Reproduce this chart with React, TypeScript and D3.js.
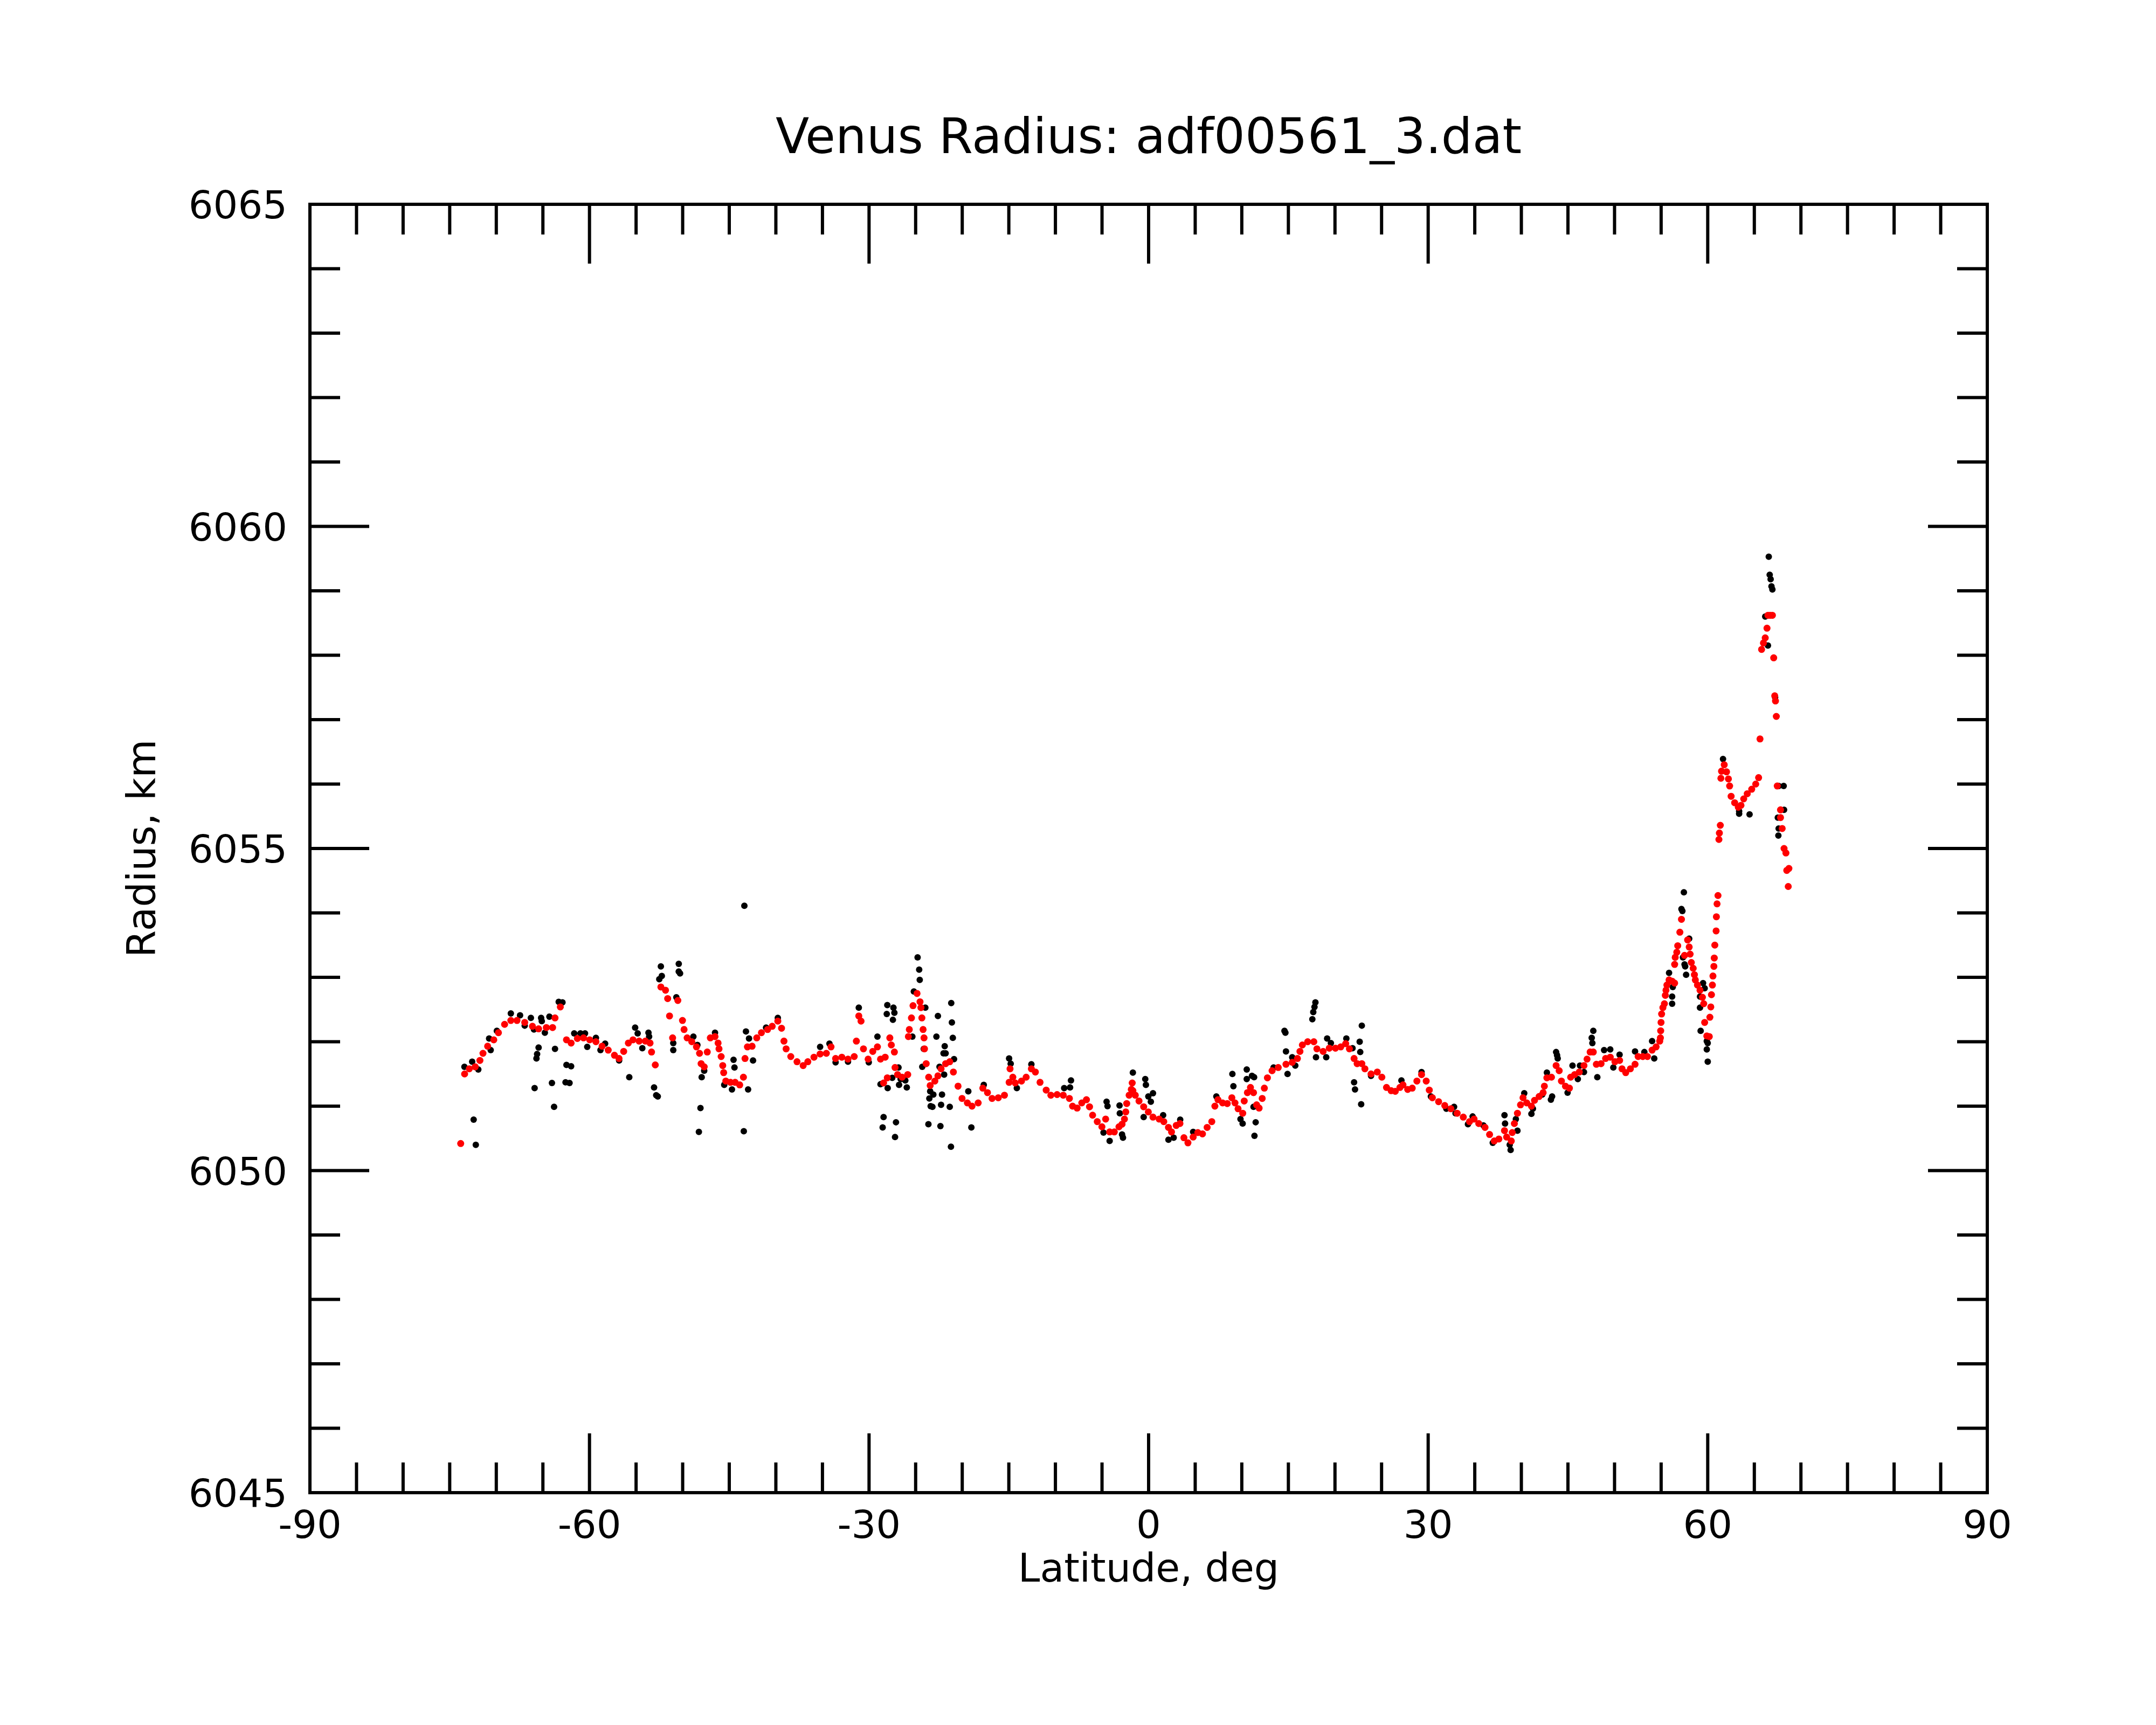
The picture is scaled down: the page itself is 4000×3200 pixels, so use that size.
import React from "react";
import * as d3 from "d3";

const W = 4000;
const H = 3200;

const chartTitle = "Venus Radius: adf00561_3.dat";
const xLabel = "Latitude, deg";
const yLabel = "Radius, km";

const xMajorTicks = [-90, -60, -30, 0, 30, 60, 90];
const xMinorTicks = d3.range(-90, 91, 5);
const yMajorTicks = [6045, 6050, 6055, 6060, 6065];
const yMinorTicks = d3.range(6045, 6066, 1);

// Smoothed radius (red), [latitude, radius km]
const smoothedPoints: [number, number][] = [
  [-73.82, 6050.42], [-73.4, 6051.5], [-72.9, 6051.58], [-72.26, 6051.61], [-71.76, 6051.71],
  [-71.43, 6051.82], [-70.93, 6051.93], [-70.27, 6052.03], [-69.77, 6052.14], [-69.11, 6052.27],
  [-68.44, 6052.33], [-67.78, 6052.33], [-66.95, 6052.3], [-66.12, 6052.24], [-65.46, 6052.2],
  [-64.63, 6052.22], [-63.96, 6052.22], [-63.7, 6052.37], [-63.13, 6052.54], [-62.47, 6052.03],
  [-61.97, 6051.98], [-61.3, 6052.05], [-60.64, 6052.06], [-59.98, 6052.03], [-59.31, 6052.0],
  [-58.65, 6051.93], [-57.99, 6051.87], [-57.32, 6051.79], [-56.83, 6051.74], [-56.33, 6051.85],
  [-55.83, 6051.98], [-55.33, 6052.03], [-54.67, 6052.01], [-54.0, 6052.01], [-53.5, 6051.98],
  [-53.34, 6051.84], [-52.94, 6051.64], [-52.34, 6052.85], [-51.84, 6052.8], [-51.61, 6052.67],
  [-51.41, 6052.4], [-51.08, 6052.06], [-50.52, 6052.64], [-50.02, 6052.33], [-49.85, 6052.19],
  [-49.52, 6052.06], [-49.02, 6052.0], [-48.52, 6051.92], [-48.19, 6051.82], [-48.02, 6051.66],
  [-47.69, 6051.61], [-47.36, 6051.84], [-47.03, 6052.06], [-46.53, 6052.08], [-46.2, 6051.98],
  [-46.1, 6051.89], [-45.87, 6051.77], [-45.7, 6051.63], [-45.6, 6051.52], [-45.37, 6051.39],
  [-44.87, 6051.37], [-44.37, 6051.37], [-43.88, 6051.33], [-43.48, 6051.45], [-43.31, 6051.74],
  [-43.05, 6051.92], [-42.55, 6051.93], [-42.05, 6052.06], [-41.55, 6052.14], [-40.89, 6052.19],
  [-40.39, 6052.24], [-39.79, 6052.32], [-39.39, 6052.21], [-39.13, 6052.01], [-38.9, 6051.89],
  [-38.4, 6051.77], [-37.73, 6051.69], [-37.07, 6051.63], [-36.57, 6051.69], [-35.91, 6051.76],
  [-35.25, 6051.81], [-34.58, 6051.82], [-34.08, 6051.92], [-33.59, 6051.74], [-32.92, 6051.76],
  [-32.26, 6051.73], [-31.59, 6051.77], [-31.36, 6052.01], [-31.1, 6052.4], [-30.86, 6052.32],
  [-30.6, 6051.89], [-30.1, 6051.73], [-29.6, 6051.85], [-29.1, 6051.92], [-28.77, 6051.73],
  [-28.44, 6051.36], [-28.27, 6051.76], [-28.04, 6051.44], [-27.77, 6052.06], [-27.61, 6051.95],
  [-27.28, 6051.84], [-27.21, 6051.6], [-26.94, 6051.49], [-26.45, 6051.45], [-25.85, 6051.49],
  [-25.78, 6052.08], [-25.68, 6052.19], [-25.45, 6052.37], [-25.28, 6052.56], [-24.85, 6052.75],
  [-24.53, 6052.62], [-24.43, 6052.53], [-24.33, 6052.37], [-24.2, 6052.19], [-24.1, 6052.06],
  [-24.05, 6051.89], [-23.87, 6051.66], [-23.6, 6051.45], [-23.44, 6051.32], [-22.94, 6051.39],
  [-22.61, 6051.47], [-22.27, 6051.58], [-21.78, 6051.66], [-21.34, 6051.69], [-20.95, 6051.53],
  [-20.45, 6051.31], [-20.02, 6051.12], [-19.45, 6051.05], [-18.95, 6051.0], [-18.29, 6051.05],
  [-17.79, 6051.28], [-17.29, 6051.21], [-16.8, 6051.12], [-16.13, 6051.13], [-15.47, 6051.17],
  [-14.97, 6051.37], [-14.87, 6051.58], [-14.57, 6051.45], [-14.31, 6051.36], [-13.64, 6051.39],
  [-13.14, 6051.45], [-12.58, 6051.58], [-12.15, 6051.53], [-11.65, 6051.37], [-10.99, 6051.25],
  [-10.49, 6051.17], [-9.82, 6051.18], [-9.16, 6051.17], [-8.5, 6051.12], [-8.16, 6051.0],
  [-7.67, 6050.97], [-7.17, 6051.05], [-6.67, 6051.1], [-6.34, 6050.99], [-6.01, 6050.86],
  [-5.51, 6050.76], [-5.01, 6050.68], [-4.61, 6050.8], [-4.18, 6050.6], [-3.68, 6050.6],
  [-3.18, 6050.68], [-2.85, 6050.72], [-2.59, 6050.8], [-2.45, 6050.91], [-2.35, 6051.04],
  [-2.09, 6051.17], [-1.86, 6051.26], [-1.76, 6051.36], [-1.69, 6051.24], [-1.43, 6051.17],
  [-1.03, 6051.08], [-0.53, 6050.99], [-0.03, 6050.91], [0.47, 6050.83], [1.13, 6050.8],
  [1.63, 6050.76], [2.13, 6050.67], [2.46, 6050.6], [2.96, 6050.7], [3.36, 6050.73],
  [3.79, 6050.51], [4.22, 6050.43], [4.78, 6050.52], [5.28, 6050.59], [5.78, 6050.57],
  [6.28, 6050.67], [6.78, 6050.76], [7.11, 6051.0], [7.44, 6051.1], [7.94, 6051.05],
  [8.44, 6051.04], [8.93, 6051.13], [9.27, 6051.05], [9.6, 6050.96], [10.1, 6050.89],
  [10.26, 6051.08], [10.6, 6051.21], [10.93, 6051.29], [11.26, 6051.21], [11.59, 6051.02],
  [11.86, 6050.97], [12.19, 6051.12], [12.42, 6051.28], [12.75, 6051.44], [13.25, 6051.55],
  [13.91, 6051.6], [14.74, 6051.65], [15.41, 6051.68], [15.97, 6051.74], [16.24, 6051.85],
  [16.5, 6051.95], [17.07, 6052.0], [17.73, 6052.0], [18.06, 6051.89], [18.73, 6051.85],
  [19.39, 6051.9], [20.05, 6051.9], [20.62, 6051.92], [21.15, 6051.97], [21.55, 6051.89],
  [22.05, 6051.74], [22.38, 6051.66], [22.88, 6051.66], [23.21, 6051.58], [23.87, 6051.5],
  [24.54, 6051.53], [25.03, 6051.45], [25.53, 6051.29], [26.03, 6051.24], [26.47, 6051.23],
  [26.97, 6051.29], [27.3, 6051.33], [27.8, 6051.26], [28.29, 6051.28], [28.79, 6051.39],
  [29.29, 6051.49], [29.79, 6051.39], [30.12, 6051.25], [30.45, 6051.13], [31.12, 6051.07],
  [31.78, 6051.01], [32.44, 6050.96], [33.11, 6050.89], [33.77, 6050.83], [34.44, 6050.76],
  [34.93, 6050.8], [35.43, 6050.73], [36.1, 6050.67], [36.59, 6050.56], [37.09, 6050.46],
  [37.59, 6050.49], [38.19, 6050.62], [38.42, 6050.52], [38.92, 6050.46], [39.02, 6050.59],
  [39.25, 6050.73], [39.58, 6050.89], [39.91, 6051.02], [40.18, 6051.13], [40.58, 6051.05],
  [41.08, 6051.0], [41.41, 6051.09], [41.91, 6051.15], [42.34, 6051.21], [42.47, 6051.31],
  [42.74, 6051.44], [43.23, 6051.45], [43.73, 6051.63], [44.06, 6051.55], [44.3, 6051.39],
  [44.73, 6051.31], [45.16, 6051.28], [45.29, 6051.45], [45.72, 6051.49], [46.22, 6051.53],
  [46.72, 6051.63], [47.05, 6051.73], [47.38, 6051.84], [47.72, 6051.84], [48.05, 6051.65],
  [48.55, 6051.66], [49.04, 6051.74], [49.54, 6051.76], [50.04, 6051.69], [50.54, 6051.71],
  [50.8, 6051.58], [51.2, 6051.52], [51.7, 6051.58], [52.2, 6051.65], [52.53, 6051.77],
  [53.03, 6051.77], [53.53, 6051.77], [54.03, 6051.87], [54.46, 6051.92], [54.85, 6052.01],
  [54.92, 6052.06], [54.95, 6052.17], [54.99, 6052.3], [55.05, 6052.43], [55.19, 6052.53],
  [55.35, 6052.59], [55.45, 6052.72], [55.52, 6052.8], [55.62, 6052.88], [55.85, 6052.96],
  [56.18, 6052.94], [56.45, 6052.91], [56.45, 6053.2], [56.51, 6053.31], [56.68, 6053.39],
  [56.78, 6053.49], [57.01, 6053.7], [57.18, 6053.9], [57.51, 6053.34], [57.84, 6053.58],
  [58.01, 6053.47], [58.11, 6053.36], [58.24, 6053.23], [58.44, 6053.14], [58.57, 6053.04],
  [58.67, 6052.96], [58.9, 6052.88], [59.17, 6052.8], [59.43, 6052.69], [59.57, 6052.59],
  [59.67, 6052.3], [59.9, 6052.09], [60.17, 6052.08], [60.23, 6052.38], [60.33, 6052.54],
  [60.4, 6052.73], [60.5, 6052.88], [60.56, 6053.02], [60.66, 6053.17], [60.7, 6053.3],
  [60.76, 6053.5], [60.9, 6053.72], [60.93, 6053.94], [61.0, 6054.14], [61.1, 6054.27],
  [61.2, 6055.14], [61.25, 6055.24], [61.35, 6055.36], [61.41, 6056.09], [61.48, 6056.2],
  [61.77, 6056.3], [62.02, 6056.19], [62.22, 6056.08], [62.35, 6055.97], [62.51, 6055.81],
  [62.89, 6055.71], [63.28, 6055.64], [63.57, 6055.67], [63.86, 6055.77], [64.24, 6055.85],
  [64.72, 6055.92], [65.15, 6056.0], [65.46, 6056.1], [65.61, 6056.7], [65.78, 6058.09],
  [65.98, 6058.19], [66.17, 6058.27], [66.36, 6058.42], [66.46, 6058.62], [66.7, 6058.62],
  [66.94, 6058.62], [67.08, 6057.96], [67.19, 6057.37], [67.27, 6057.29], [67.36, 6057.05],
  [67.46, 6055.97], [67.81, 6055.6], [67.81, 6055.48], [67.99, 6055.31], [68.19, 6055.0],
  [68.39, 6054.93], [68.48, 6054.66], [68.71, 6054.69], [68.64, 6054.41],
];

// Raw radius samples (black), [latitude, radius km]
const rawPoints: [number, number][] = [
  [-73.42, 6051.61], [-72.59, 6051.69], [-72.43, 6050.79], [-72.2, 6050.4], [-71.93, 6051.57],
  [-70.77, 6052.05], [-70.6, 6051.87], [-69.94, 6052.17], [-68.44, 6052.44], [-67.45, 6052.41],
  [-66.95, 6052.25], [-66.29, 6052.37], [-65.96, 6052.19], [-65.89, 6051.28], [-65.69, 6051.74],
  [-65.62, 6051.81], [-65.46, 6051.91], [-65.19, 6052.37], [-65.12, 6052.32], [-64.79, 6052.14],
  [-64.3, 6052.39], [-64.03, 6051.36], [-63.8, 6050.99], [-63.7, 6051.89], [-63.3, 6052.62],
  [-62.9, 6052.61], [-62.47, 6051.64], [-62.57, 6051.37], [-62.14, 6051.36], [-61.97, 6051.62],
  [-61.64, 6052.13], [-60.97, 6052.13], [-60.48, 6052.13], [-60.24, 6051.92], [-59.31, 6052.06],
  [-58.82, 6051.87], [-58.32, 6051.97], [-56.82, 6051.71], [-55.73, 6051.45], [-55.1, 6052.22],
  [-54.83, 6052.13], [-54.33, 6051.9], [-53.67, 6052.14], [-53.6, 6052.08], [-53.07, 6051.29],
  [-52.84, 6051.17], [-52.67, 6051.15], [-52.51, 6052.97], [-52.34, 6053.17], [-52.24, 6053.02],
  [-50.42, 6053.21], [-50.42, 6053.09], [-50.28, 6053.06], [-50.68, 6052.69], [-51.01, 6051.98],
  [-51.01, 6051.87], [-48.85, 6052.08], [-48.42, 6051.95], [-48.26, 6050.6], [-48.09, 6050.97],
  [-47.96, 6051.45], [-47.69, 6051.55], [-46.53, 6052.14], [-45.54, 6051.33], [-44.71, 6051.26],
  [-44.54, 6051.72], [-44.44, 6051.6], [-43.44, 6050.61], [-43.38, 6054.11], [-43.21, 6052.16],
  [-42.98, 6051.26], [-42.88, 6052.05], [-42.45, 6051.71], [-41.05, 6052.22], [-39.79, 6052.37],
  [-35.25, 6051.92], [-34.25, 6051.97], [-33.59, 6051.68], [-32.26, 6051.69], [-31.1, 6052.53],
  [-30.03, 6051.68], [-29.1, 6052.08], [-28.77, 6051.34], [-28.54, 6050.67], [-28.44, 6050.83],
  [-28.1, 6052.43], [-28.04, 6052.57], [-28.0, 6051.28], [-27.51, 6051.44], [-27.44, 6052.34],
  [-27.28, 6052.45], [-27.38, 6052.53], [-27.21, 6050.52], [-27.11, 6050.75], [-26.84, 6051.6],
  [-26.78, 6051.33], [-26.61, 6051.42], [-25.95, 6051.29], [-26.11, 6051.4], [-25.35, 6052.08],
  [-25.19, 6052.78], [-24.79, 6053.31], [-24.62, 6053.12], [-24.56, 6052.96], [-23.96, 6052.53],
  [-24.29, 6051.61], [-24.13, 6051.89], [-23.63, 6050.72], [-23.53, 6051.12], [-23.39, 6051.0],
  [-23.44, 6051.23], [-23.2, 6050.99], [-23.1, 6051.18], [-22.77, 6052.08], [-22.61, 6052.4],
  [-22.44, 6051.61], [-22.34, 6050.69], [-22.27, 6051.02], [-22.17, 6051.18], [-22.01, 6051.82],
  [-21.88, 6051.93], [-21.78, 6051.82], [-21.94, 6051.49], [-21.34, 6050.99], [-21.21, 6050.37],
  [-21.18, 6052.6], [-21.11, 6052.3], [-21.01, 6052.06], [-20.88, 6051.73], [-19.35, 6051.23],
  [-19.02, 6050.67], [-17.69, 6051.33], [-14.97, 6051.74], [-14.8, 6051.66], [-14.14, 6051.28],
  [-12.58, 6051.65], [-9.06, 6051.28], [-8.33, 6051.4], [-8.43, 6051.29], [-4.51, 6051.07],
  [-4.41, 6051.0], [-4.18, 6050.46], [-4.84, 6050.59], [-3.12, 6051.01], [-3.09, 6050.89],
  [-2.85, 6050.56], [-2.75, 6050.51], [-1.69, 6051.52], [-0.36, 6051.42], [-0.29, 6051.33],
  [-0.03, 6051.15], [0.47, 6051.2], [0.24, 6051.07], [-0.53, 6050.83], [1.56, 6050.86],
  [2.13, 6050.48], [2.69, 6050.51], [3.39, 6050.79], [4.78, 6050.6], [7.27, 6051.15],
  [8.99, 6051.5], [9.1, 6051.31], [9.86, 6050.8], [10.09, 6050.73], [10.53, 6051.57],
  [10.53, 6051.42], [11.09, 6051.47], [11.32, 6051.45], [11.49, 6050.75], [11.36, 6050.54],
  [11.26, 6050.99], [13.41, 6051.6], [14.58, 6052.17], [14.68, 6052.14], [14.74, 6051.85],
  [14.91, 6051.5], [15.41, 6051.76], [15.74, 6051.63], [17.57, 6052.35], [17.67, 6052.46],
  [17.8, 6052.54], [17.9, 6052.61], [17.96, 6051.76], [19.06, 6051.76], [19.16, 6052.05],
  [19.56, 6051.98], [21.22, 6052.05], [21.88, 6051.9], [22.05, 6051.37], [22.15, 6051.26],
  [22.65, 6052.0], [22.71, 6051.84], [22.81, 6051.03], [22.88, 6052.25], [23.87, 6051.47],
  [27.13, 6051.4], [29.29, 6051.53], [30.29, 6051.15], [31.95, 6050.96], [32.78, 6050.99],
  [32.94, 6050.89], [34.27, 6050.72], [34.77, 6050.84], [35.93, 6050.7], [36.93, 6050.43],
  [38.19, 6050.86], [38.25, 6050.73], [38.75, 6050.4], [38.85, 6050.32], [39.58, 6050.62],
  [39.41, 6050.8], [40.31, 6051.2], [41.08, 6050.88], [41.24, 6050.96], [42.24, 6051.18],
  [42.74, 6051.52], [43.17, 6051.1], [43.3, 6051.15], [43.73, 6051.84], [43.83, 6051.79],
  [43.9, 6051.74], [44.96, 6051.21], [45.49, 6051.63], [46.06, 6051.42], [46.29, 6051.63],
  [46.72, 6051.53], [47.55, 6052.06], [47.72, 6052.17], [47.62, 6051.98], [48.15, 6051.45],
  [48.88, 6051.87], [49.54, 6051.88], [49.87, 6051.6], [50.54, 6051.8], [52.2, 6051.85],
  [53.2, 6051.84], [54.03, 6052.01], [54.26, 6051.74], [55.85, 6053.07], [56.25, 6052.85],
  [56.18, 6052.7], [56.18, 6052.59], [57.44, 6054.32], [57.18, 6054.06], [57.28, 6054.03],
  [57.34, 6053.31], [57.51, 6053.2], [57.58, 6053.17], [57.68, 6053.04], [58.01, 6053.6],
  [59.5, 6052.91], [59.67, 6052.83], [59.17, 6052.7], [59.17, 6052.53], [59.24, 6052.17],
  [59.9, 6052.01], [60.0, 6051.98], [59.9, 6051.88], [60.0, 6051.69], [61.64, 6056.39],
  [63.37, 6055.54], [64.49, 6055.53], [66.55, 6059.53], [66.65, 6059.25], [66.75, 6059.18],
  [66.84, 6059.07], [66.94, 6059.02], [66.17, 6058.6], [65.98, 6058.19], [65.78, 6058.09],
  [66.46, 6058.15], [67.23, 6057.35], [67.52, 6055.48], [67.61, 6055.97], [68.15, 6055.97],
  [68.19, 6055.6], [67.61, 6055.31], [67.58, 6055.2], [63.37, 6055.58],
];

const left = 575;
const right = 3687;
const top = 379;
const bottom = 2769;
const majorLen = 110;
const minorLen = 56;
const font = "'DejaVu Sans', sans-serif";

export default function App() {
  const x = d3.scaleLinear().domain([-90, 90]).range([left, right]);
  const y = d3.scaleLinear().domain([6045, 6065]).range([bottom, top]);
  const sw = 6;
  const tickFont = 72;
  const labelFont = 73;

  const xMinor = xMinorTicks.filter((t) => !xMajorTicks.includes(t));
  const yMinor = yMinorTicks.filter((t) => !yMajorTicks.includes(t));

  return (
    <svg
      width={W}
      height={H}
      viewBox={`0 0 ${W} ${H}`}
      style={{ position: "absolute", left: 0, top: 0, background: "#fff" }}
      xmlns="http://www.w3.org/2000/svg"
    >
      <rect x={0} y={0} width={W} height={H} fill="#fff" />
      <g stroke="#000" strokeWidth={sw}>
        {xMajorTicks.map((t) => (
          <g key={"xM" + t}>
            <line x1={x(t)} x2={x(t)} y1={top} y2={top + majorLen} />
            <line x1={x(t)} x2={x(t)} y1={bottom} y2={bottom - majorLen} />
          </g>
        ))}
        {xMinor.map((t) => (
          <g key={"xm" + t}>
            <line x1={x(t)} x2={x(t)} y1={top} y2={top + minorLen} />
            <line x1={x(t)} x2={x(t)} y1={bottom} y2={bottom - minorLen} />
          </g>
        ))}
        {yMajorTicks.map((t) => (
          <g key={"yM" + t}>
            <line x1={left} x2={left + majorLen} y1={y(t)} y2={y(t)} />
            <line x1={right} x2={right - majorLen} y1={y(t)} y2={y(t)} />
          </g>
        ))}
        {yMinor.map((t) => (
          <g key={"ym" + t}>
            <line x1={left} x2={left + minorLen} y1={y(t)} y2={y(t)} />
            <line x1={right} x2={right - minorLen} y1={y(t)} y2={y(t)} />
          </g>
        ))}
      </g>
      <rect
        x={left}
        y={top}
        width={right - left}
        height={bottom - top}
        fill="none"
        stroke="#000"
        strokeWidth={sw}
      />
      <g fill="#000">
        {rawPoints.map((p, i) => (
          <circle key={"b" + i} cx={x(p[0])} cy={y(p[1])} r={6} />
        ))}
      </g>
      <g fill="#ff0000">
        {smoothedPoints.map((p, i) => (
          <circle key={"r" + i} cx={x(p[0])} cy={y(p[1])} r={6.5} />
        ))}
      </g>
      <g fontFamily={font} fontSize={tickFont} fill="#000">
        {xMajorTicks.map((t) => (
          <text key={"xl" + t} x={x(t)} y={2853} textAnchor="middle">
            {t}
          </text>
        ))}
        {yMajorTicks.map((t) => (
          <text key={"yl" + t} x={533} y={y(t) + 26} textAnchor="end">
            {t}
          </text>
        ))}
      </g>
      <text
        x={(left + right) / 2}
        y={2934}
        textAnchor="middle"
        fontFamily={font}
        fontSize={labelFont}
        fill="#000"
      >
        {xLabel}
      </text>
      <text
        transform={`translate(288, ${(top + bottom) / 2}) rotate(-90)`}
        textAnchor="middle"
        fontFamily={font}
        fontSize={labelFont}
        fill="#000"
      >
        {yLabel}
      </text>
      <text
        x={(left + right) / 2}
        y={284}
        textAnchor="middle"
        fontFamily={font}
        fontSize={91}
        fill="#000"
      >
        {chartTitle}
      </text>
    </svg>
  );
}
